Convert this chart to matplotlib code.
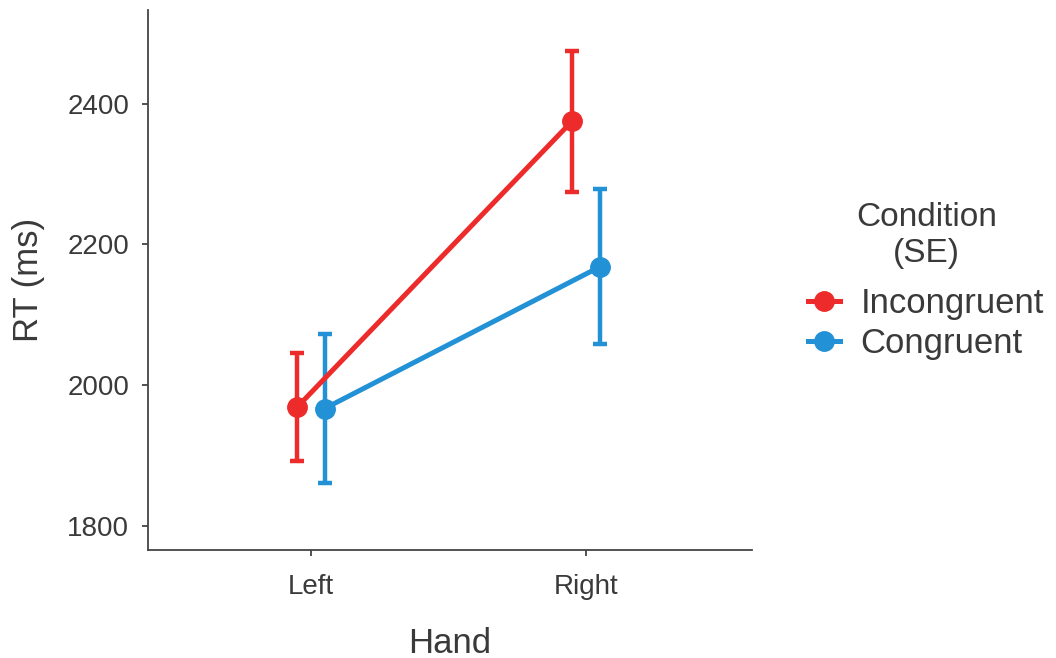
import matplotlib
matplotlib.use("Agg")
import matplotlib.pyplot as plt
import numpy as np
from matplotlib.lines import Line2D

plt.rcParams["font.family"] = ["Liberation Sans", "DejaVu Sans"]

hands = ["Left", "Right"]
conditions = ["Incongruent", "Congruent"]
means = {"Incongruent": [1969, 2375], "Congruent": [1967, 2168]}
se = {"Incongruent": [77, 100], "Congruent": [106, 110]}
colors = {"Incongruent": "#EE2B2B", "Congruent": "#2291D5"}
dodge = {"Incongruent": -0.05, "Congruent": 0.05}

fig = plt.figure(figsize=(10.56, 6.58), dpi=100)
ax = fig.add_axes([0.140, 0.164, 0.572, 0.821])

x = np.arange(len(hands))
for cond in conditions:
    xs = x + dodge[cond]
    ax.errorbar(xs, means[cond], yerr=se[cond], color=colors[cond],
                lw=3.6, elinewidth=3.2, capsize=4.7, capthick=3.2,
                marker="o", markersize=14, zorder=3,
                solid_capstyle="round")

ax.set_xlim(-0.593, 1.604)
ax.set_ylim(1766, 2533)
ax.set_xticks(x)
ax.set_xticklabels(hands)
ax.set_yticks([1800, 2000, 2200, 2400])

for side in ["top", "right"]:
    ax.spines[side].set_visible(False)
for side in ["left", "bottom"]:
    ax.spines[side].set_color("#444444")
    ax.spines[side].set_linewidth(1.3)
ax.tick_params(axis="both", colors="#444444", labelcolor="#3a3a3a",
               labelsize=20, length=4.5, width=1.3)
ax.tick_params(axis="y", pad=9)
ax.tick_params(axis="x", pad=13)

ax.set_xlabel("Hand", fontsize=25, color="#3a3a3a", labelpad=19)
ax.set_ylabel("RT (ms)", fontsize=25, color="#3a3a3a", labelpad=16)

handles = [Line2D([0], [0], color=colors[c], lw=3.6, marker="o", markersize=14)
           for c in conditions]
leg = fig.legend(handles, conditions, title="Condition\n(SE)",
                 loc="center left", bbox_to_anchor=(0.736, 0.573),
                 frameon=False, fontsize=25, title_fontsize=24,
                 handlelength=0.9, handletextpad=0.6, labelspacing=0.2)
leg._legend_box.sep = 13
leg.get_title().set_multialignment("center")
leg.get_title().set_color("#3a3a3a")
for t in leg.get_texts():
    t.set_color("#3a3a3a")

plt.savefig("out.png", dpi=100)
plt.close()
